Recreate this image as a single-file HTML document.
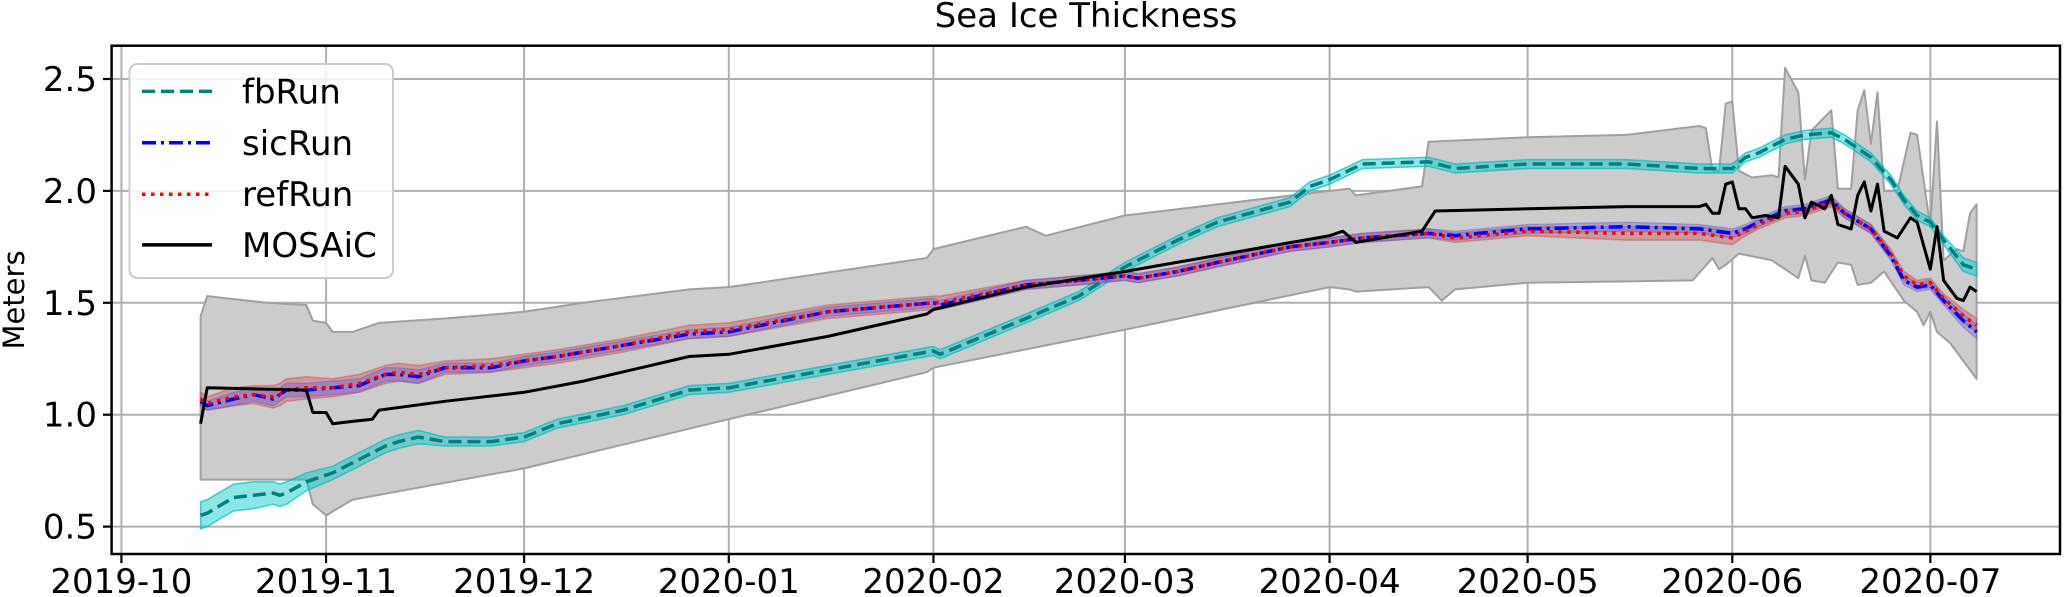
<!DOCTYPE html>
<html><head><meta charset="utf-8">
<style>
html,body{margin:0;padding:0;background:#fff;}
svg{display:block;font-family:"DejaVu Sans","Liberation Sans",sans-serif;}
</style></head>
<body>
<svg id="chart" width="2067" height="597" viewBox="0 0 2067 597" xmlns="http://www.w3.org/2000/svg">
<rect width="2067" height="597" fill="#fff"/>
<text x="1086" y="27" font-size="34" text-anchor="middle">Sea Ice Thickness</text>
<text transform="translate(24,300) rotate(-90)" font-size="29" text-anchor="middle">Meters</text>
<defs><clipPath id="plotclip"><rect x="111.6" y="45.7" width="1948.4" height="508.3"/></clipPath></defs>
<g id="grid"></g>
<g id="plot" clip-path="url(#plotclip)"></g>
<rect x="111.6" y="45.7" width="1948.4" height="508.3" fill="none" stroke="#000" stroke-width="2.5"/>
<g id="ticks"></g>
<g id="legend"></g>
</svg>
<script>
// ---- data ----
const xTickLabels = ['2019-10','2019-11','2019-12','2020-01','2020-02','2020-03','2020-04','2020-05','2020-06','2020-07'];
const yTickValues = [0.5, 1.0, 1.5, 2.0, 2.5];
const yTickLabels = ['0.5','1.0','1.5','2.0','2.5'];
// days since 2019-10-01
const modelDays = [12,13,17,20,23,24,25,28,32,36,40,42,45,49,56,61,66,76,86,92,107,123,124,137,145,152,154,160,166,177,180,183,188,198,202,213,228,239,244,246,248,252,255,259,261,265,268,270,272,274,276,279,281];
const fbRun = [0.55,0.56,0.63,0.64,0.65,0.64,0.65,0.70,0.74,0.80,0.86,0.88,0.90,0.88,0.88,0.90,0.96,1.02,1.11,1.12,1.20,1.285,1.27,1.43,1.53,1.66,1.69,1.78,1.86,1.95,2.02,2.05,2.12,2.13,2.10,2.12,2.12,2.10,2.10,2.15,2.17,2.23,2.25,2.26,2.23,2.15,2.05,1.96,1.89,1.86,1.78,1.67,1.65];
const fbSpread = [0.06,0.06,0.06,0.06,0.05,0.05,0.05,0.04,0.03,0.03,0.03,0.03,0.03,0.02,0.02,0.02,0.02,0.02,0.02,0.02,0.02,0.02,0.02,0.02,0.02,0.02,0.02,0.02,0.02,0.02,0.02,0.02,0.02,0.02,0.02,0.02,0.02,0.02,0.02,0.02,0.02,0.02,0.02,0.02,0.02,0.02,0.02,0.02,0.02,0.02,0.02,0.03,0.03];
const sicRun = [1.06,1.04,1.07,1.09,1.07,1.09,1.11,1.11,1.12,1.13,1.18,1.18,1.17,1.21,1.21,1.24,1.26,1.31,1.36,1.37,1.46,1.50,1.49,1.58,1.60,1.62,1.61,1.64,1.68,1.75,1.76,1.77,1.79,1.81,1.80,1.83,1.84,1.83,1.81,1.83,1.86,1.91,1.92,1.96,1.90,1.83,1.71,1.60,1.57,1.58,1.51,1.42,1.37];
const sicSpread = [0.02,0.02,0.03,0.03,0.03,0.03,0.03,0.03,0.03,0.03,0.03,0.03,0.03,0.02,0.02,0.02,0.02,0.02,0.02,0.02,0.02,0.02,0.02,0.02,0.02,0.02,0.02,0.02,0.02,0.02,0.02,0.02,0.02,0.02,0.02,0.02,0.02,0.02,0.02,0.02,0.02,0.02,0.02,0.02,0.02,0.02,0.02,0.02,0.02,0.02,0.02,0.03,0.03];
const refRun = [1.07,1.05,1.08,1.09,1.08,1.09,1.11,1.12,1.12,1.14,1.18,1.19,1.18,1.21,1.22,1.24,1.26,1.31,1.37,1.38,1.46,1.50,1.50,1.58,1.60,1.62,1.61,1.64,1.68,1.75,1.76,1.77,1.79,1.81,1.79,1.82,1.81,1.81,1.79,1.82,1.85,1.90,1.91,1.95,1.90,1.83,1.72,1.62,1.58,1.59,1.52,1.44,1.40];
const refSpread = [0.03,0.03,0.04,0.04,0.05,0.05,0.05,0.05,0.04,0.04,0.04,0.04,0.04,0.03,0.03,0.03,0.03,0.03,0.03,0.03,0.03,0.03,0.03,0.02,0.02,0.02,0.02,0.02,0.02,0.02,0.02,0.02,0.02,0.02,0.02,0.02,0.03,0.03,0.03,0.02,0.02,0.02,0.02,0.02,0.02,0.02,0.02,0.02,0.02,0.02,0.02,0.03,0.03];
const mosaicDays = [12,13,28,29,31,32,35,38,39,49,61,70,86,92,107,122,123,137,152,183,185,187,197,199,213,228,239,240,241,242,243,244,245,246,247,249,251,252,254,255,256,258,259,260,262,263,264,265,266,267,269,271,272,274,275,276,278,279,280,281];
const mosaic = [0.96,1.12,1.11,1.01,1.01,0.96,0.97,0.98,1.02,1.06,1.10,1.15,1.26,1.27,1.35,1.45,1.47,1.57,1.64,1.80,1.82,1.77,1.82,1.91,1.92,1.93,1.93,1.94,1.90,1.90,2.03,2.04,1.92,1.92,1.88,1.89,1.88,2.11,2.03,1.88,1.95,1.92,1.98,1.85,1.83,1.98,2.04,1.91,2.03,1.82,1.79,1.88,1.86,1.65,1.84,1.60,1.52,1.51,1.57,1.55];
const obsUpperDays = [12,13,22,28,29,31,32,35,39,49,61,70,86,92,122,123,130,137,140,152,183,186,187,197,198,213,228,239,240,241,242,243,244,245,247,250,251,252,254,255,256,259,260,262,263,264,265,266,267,269,271,272,274,275,276,278,279,280,281];
const obsUpper = [1.44,1.53,1.50,1.49,1.42,1.41,1.37,1.37,1.41,1.43,1.46,1.50,1.56,1.57,1.70,1.74,1.79,1.84,1.80,1.89,2.00,2.01,1.98,2.02,2.22,2.24,2.25,2.29,2.28,2.09,2.09,2.39,2.40,2.09,2.06,2.07,2.06,2.55,2.44,2.05,2.27,2.36,2.01,2.01,2.36,2.45,2.21,2.44,2.00,2.00,2.26,2.25,1.84,2.31,1.69,1.74,1.73,1.90,1.94];
const obsLowerDays = [12,28,29,31,35,61,92,122,123,152,183,186,187,198,200,202,213,238,241,242,243,245,250,254,255,256,258,260,262,263,265,267,270,272,273,274,275,277,279,281];
const obsLower = [0.71,0.71,0.60,0.55,0.62,0.76,0.98,1.19,1.21,1.38,1.57,1.56,1.55,1.57,1.51,1.56,1.59,1.60,1.70,1.65,1.67,1.72,1.69,1.61,1.71,1.60,1.59,1.68,1.67,1.58,1.59,1.64,1.51,1.46,1.40,1.46,1.37,1.32,1.24,1.16];

// ---- axes ----
const X0 = 121.4, PXD = 6.602, Y05 = 526.6, PXM = 223.8;
function X(d){ return X0 + d * PXD; }
function Y(v){ return Y05 - (v - 0.5) * PXM; }
function dayOf(label){ const [y,m]=label.split('-').map(Number); return (Date.UTC(y,m-1,1)-Date.UTC(2019,9,1))/86400000; }

const NS='http://www.w3.org/2000/svg';
function mk(tag, attrs, parent){ const e=document.createElementNS(NS,tag); for(const k in attrs) e.setAttribute(k,attrs[k]); parent.appendChild(e); return e; }
const grid=document.getElementById('grid'), plot=document.getElementById('plot'), ticks=document.getElementById('ticks'), legend=document.getElementById('legend');

xTickLabels.forEach(lab=>{
  const x=X(dayOf(lab));
  const g=mk('line',{x1:x,x2:x,y1:45.7,y2:554,stroke:'#b0b0b0','stroke-width':2},grid);
  
  
  const t=mk('line',{x1:x,x2:x,y1:554,y2:563,stroke:'#000','stroke-width':2.2},ticks);
  
  
  const tx=mk('text',{x:x,y:593,'font-size':34,'text-anchor':'middle'},ticks);
  tx.textContent=lab;
  
  
});
yTickValues.forEach((v,i)=>{
  const y=Y(v);
  const g=mk('line',{x1:111.6,x2:2060,y1:y,y2:y,stroke:'#b0b0b0','stroke-width':2},grid);
  
  
  const t=mk('line',{x1:103,x2:111.6,y1:y,y2:y,stroke:'#000','stroke-width':2.2},ticks);
  
  
  const tx=mk('text',{x:97,y:y+12,'font-size':34,'text-anchor':'end'},ticks);
  tx.textContent=yTickLabels[i];
  
  
});

function linePts(days, vals){ return days.map((d,i)=>X(d).toFixed(1)+','+Y(vals[i]).toFixed(1)).join(' '); }
function bandPts(daysU, up, daysL, lo){
  const a=daysU.map((d,i)=>X(d).toFixed(1)+','+Y(up[i]).toFixed(1));
  const b=daysL.map((d,i)=>X(d).toFixed(1)+','+Y(lo[i]).toFixed(1)).reverse();
  return a.concat(b).join(' ');
}
function spreadBand(vals, spread, sign){ return vals.map((v,i)=>v+sign*spread[i]); }

// observation range band
let p=mk('polygon',{points:bandPts(obsUpperDays,obsUpper,obsLowerDays,obsLower),fill:'#cccccc',stroke:'#a0a0a0','stroke-width':2,'stroke-linejoin':'round'},plot);



// model bands
p=mk('polygon',{points:bandPts(modelDays,spreadBand(fbRun,fbSpread,1),modelDays,spreadBand(fbRun,fbSpread,-1)),fill:'rgba(0,200,200,0.45)',stroke:'rgba(0,190,190,0.7)','stroke-width':1.5},plot);


p=mk('polygon',{points:bandPts(modelDays,spreadBand(refRun,refSpread,1),modelDays,spreadBand(refRun,refSpread,-1)),fill:'rgba(205,80,80,0.4)',stroke:'rgba(205,80,80,0.5)','stroke-width':1.5},plot);


p=mk('polygon',{points:bandPts(modelDays,spreadBand(sicRun,sicSpread,1),modelDays,spreadBand(sicRun,sicSpread,-1)),fill:'rgba(90,90,220,0.35)',stroke:'rgba(90,90,220,0.45)','stroke-width':1.2},plot);



// lines
let l=mk('polyline',{points:linePts(modelDays,fbRun),fill:'none',stroke:'#008080','stroke-width':3.5,'stroke-dasharray':'13,6','stroke-linejoin':'round'},plot);


l=mk('polyline',{points:linePts(modelDays,sicRun),fill:'none',stroke:'#0000ff','stroke-width':3.5,'stroke-dasharray':'14,5,3,5','stroke-linejoin':'round'},plot);


l=mk('polyline',{points:linePts(modelDays,refRun),fill:'none',stroke:'#ff0000','stroke-width':3.5,'stroke-dasharray':'3.5,5.5','stroke-linejoin':'round'},plot);


l=mk('polyline',{points:linePts(mosaicDays,mosaic),fill:'none',stroke:'#000','stroke-width':3,'stroke-linejoin':'round'},plot);



// legend
const lb=mk('rect',{x:129.5,y:64,width:263.5,height:214,rx:8,fill:'rgba(255,255,255,0.85)',stroke:'#cccccc','stroke-width':2},legend);


const legNames=['fbRun','sicRun','refRun','MOSAiC'];
const legStyles=[['#008080','13,6'],['#0000ff','14,5,3,5'],['#ff0000','3.5,5.5'],['#000','none']];
const legY=[91.4,142.8,194.2,244.9];
legNames.forEach((n,i)=>{
  const ln=mk('line',{x1:142,x2:212,y1:legY[i],y2:legY[i],stroke:legStyles[i][0],'stroke-width':3.5,'stroke-dasharray':legStyles[i][1]},legend);
  
  
  const t=mk('text',{x:242,y:legY[i]+12,'font-size':34},legend);
  t.textContent=n;
  
  
});
</script>
</body></html>
